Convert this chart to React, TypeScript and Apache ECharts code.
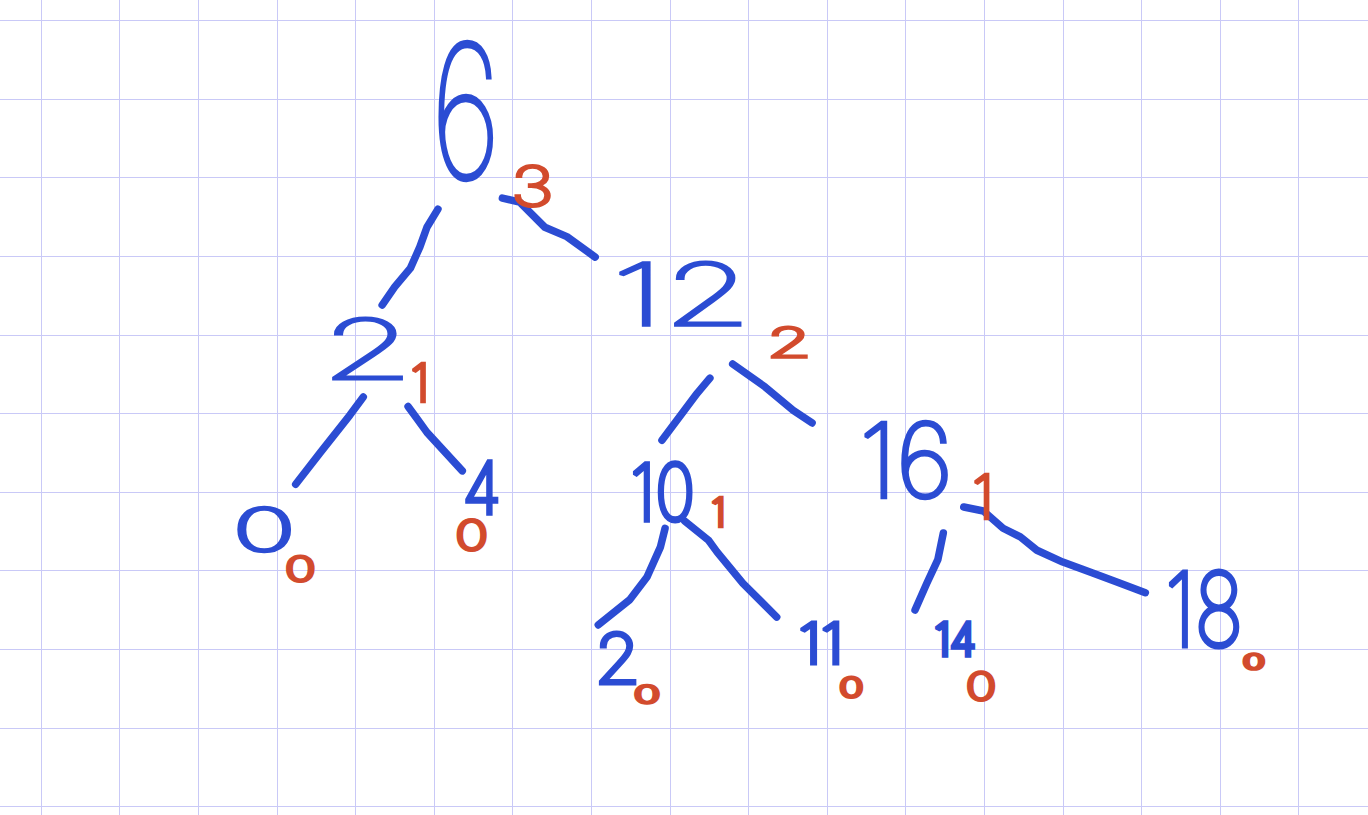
import { useEffect, useRef } from "react";
import * as echarts from "echarts";

// notebook paper: one unit = one square; the page shows a little less than 18 x 11 squares
const X_MIN = 0.478;
const X_MAX = 17.883;
const Y_MIN = 0.739;
const Y_MAX = 11.108;
const paperCols = [1, 2, 3, 4, 5, 6, 7, 8, 9, 10, 11, 12, 13, 14, 15, 16, 17];
const paperRows = [1, 2, 3, 4, 5, 6, 7, 8, 9, 10, 11];

// tree nodes (blue ink): written number and its centre, in squares
const nodeLabels = ["6", "12", "2", "0", "4", "10", "16", "2", "11", "14", "18"];
const nodeX = [6.41, 9.14, 5.16, 3.84, 6.61, 8.91, 12.01, 8.34, 10.91, 12.63, 15.8];
const nodeY = [2.15, 4.47, 5.18, 7.48, 6.95, 6.99, 6.59, 9.11, 8.92, 8.86, 8.49];

// balance numbers written next to each node (red ink)
const balanceLabels = ["3", "2", "1", "0", "0", "1", "1", "0", "0", "0", "0"];
const balanceX = [7.25, 10.52, 5.81, 4.3, 6.48, 9.61, 12.97, 8.71, 11.31, 12.96, 16.43];
const balanceY = [3.11, 5.09, 5.61, 7.98, 7.55, 7.25, 7.05, 9.57, 9.48, 9.47, 9.16];

// hand-drawn edges, parent -> child, as stroke points in squares
const edgeFrom = ["6", "6", "12", "12", "2", "2", "10", "10", "16", "16"];
const edgeTo = ["2", "12", "10", "16", "0", "4", "2", "11", "14", "18"];
const edgeX = [
  [6.05, 5.91, 5.82, 5.7, 5.5, 5.34],
  [6.87, 7.09, 7.41, 7.69, 8.05],
  [9.51, 9.35, 8.9],
  [9.8, 10.21, 10.57, 10.81],
  [5.1, 4.93, 4.55, 4.24],
  [5.67, 5.78, 5.91, 6.36],
  [8.94, 8.88, 8.71, 8.49, 8.09],
  [9.19, 9.49, 9.6, 9.93, 10.36],
  [12.48, 12.41, 12.27, 12.12],
  [12.74, 12.99, 13.24, 13.46, 13.67, 14.0, 14.38, 14.73, 15.05],
];
const edgeY = [
  [3.4, 3.63, 3.88, 4.15, 4.39, 4.62],
  [3.26, 3.31, 3.63, 3.75, 4.01],
  [5.55, 5.74, 6.34],
  [5.37, 5.66, 5.96, 6.12],
  [5.79, 6.02, 6.5, 6.9],
  [5.91, 6.06, 6.24, 6.73],
  [7.46, 7.7, 8.08, 8.37, 8.69],
  [7.37, 7.61, 7.76, 8.16, 8.59],
  [7.52, 7.86, 8.16, 8.5],
  [7.19, 7.24, 7.46, 7.57, 7.74, 7.89, 8.03, 8.16, 8.28],
];

// size of the handwriting (px): width, height of the ink; 0 width = natural
const nodeInkW = [53, 118, 67, 51, 29, 55, 80, 33, 34, 35, 67];
const nodeInkH = [138, 63, 61, 44, 51, 58, 76, 50, 40, 32, 76];
const balanceInkW = [32, 32, 0, 23, 25, 0, 0, 20, 18, 23, 24];
const balanceInkH = [41, 30, 37, 25, 31, 28, 43, 18, 20, 28, 15];

const BLUE = "#2b4cd3";
const RED = "#d24b2d";
const PAPER_LINE = "#c9c9f7";
const FONT = "Inter";
const WEIGHT = 100;
const STEM = 0.02;
const BASELINE_SHIFT = 0.065;

const measureCtx = document.createElement("canvas").getContext("2d")!;
function measureInk(text: string) {
  measureCtx.font = `${WEIGHT} 100px ${FONT}`;
  measureCtx.textAlign = "center";
  measureCtx.textBaseline = "middle";
  const m = measureCtx.measureText(text);
  return {
    left: m.actualBoundingBoxLeft,
    right: m.actualBoundingBoxRight,
    ascent: m.actualBoundingBoxAscent,
    descent: m.actualBoundingBoxDescent,
  };
}

function inkText(labels: string[], inkW: number[], inkH: number[], color: string, pen: number) {
  return (params: any, api: any) => {
    const i = params.dataIndex;
    const [cx, cy] = api.coord([api.value(0), api.value(1)]);
    const m = measureInk(labels[i]);
    const fontSize = (100 * inkH[i]) / (m.ascent + m.descent);
    const k = fontSize / 100;
    let sx = inkW[i] ? inkW[i] / ((m.left + m.right) * k) : 1;
    sx = Math.min(1.8, Math.max(0.35, sx));
    const lw = Math.max(0.5, pen / Math.sqrt(sx) - STEM * fontSize);
    return {
      type: "text",
      x: cx,
      y: cy,
      scaleX: sx,
      scaleY: 1,
      style: {
        text: labels[i],
        x: (-(m.right - m.left) / 2) * k,
        y: ((m.ascent - m.descent) / 2) * k - BASELINE_SHIFT * fontSize,
        align: "center",
        verticalAlign: "middle",
        fontFamily: FONT,
        fontWeight: WEIGHT,
        fontSize,
        fill: color,
        stroke: color,
        lineWidth: lw,
        lineJoin: "round",
      },
    };
  };
}

const hiddenAxis = {
  type: "value" as const,
  axisLine: { show: false },
  axisTick: { show: false },
  axisLabel: { show: false },
  splitLine: { show: false },
};

export default function App() {
  const chartRef = useRef<HTMLDivElement>(null);

  useEffect(() => {
    if (!chartRef.current) return;
    const chart = echarts.init(chartRef.current, null, { renderer: "svg" });

    const option: echarts.EChartsOption = {
      animation: false,
      backgroundColor: "#ffffff",
      grid: { left: 0, right: 0, top: 0, bottom: 0, containLabel: false },
      xAxis: { ...hiddenAxis, min: X_MIN, max: X_MAX },
      yAxis: { ...hiddenAxis, inverse: true, min: Y_MIN, max: Y_MAX },
      series: [
        {
          name: "edges",
          type: "lines",
          coordinateSystem: "cartesian2d",
          polyline: true,
          silent: true,
          z: 2,
          lineStyle: { color: BLUE, width: 7.5, opacity: 1, cap: "round", join: "round" },
          data: edgeX.map((xs, e) => ({
            name: `${edgeFrom[e]}-${edgeTo[e]}`,
            coords: xs.map((x, j) => [x, edgeY[e][j]]),
          })),
          markLine: {
            silent: true,
            symbol: "none",
            z: 1,
            label: { show: false },
            lineStyle: { color: PAPER_LINE, width: 1, type: "solid" },
            data: [
              ...paperCols.map((c) => ({ xAxis: c })),
              ...paperRows.map((r) => ({ yAxis: r })),
            ],
          },
        },
        {
          name: "nodes",
          type: "custom",
          coordinateSystem: "cartesian2d",
          silent: true,
          clip: false,
          z: 3,
          renderItem: inkText(nodeLabels, nodeInkW, nodeInkH, BLUE, 6.5) as any,
          data: nodeX.map((x, i) => [x, nodeY[i]]),
        },
        {
          name: "balance",
          type: "custom",
          coordinateSystem: "cartesian2d",
          silent: true,
          clip: false,
          z: 4,
          renderItem: inkText(balanceLabels, balanceInkW, balanceInkH, RED, 5.5) as any,
          data: balanceX.map((x, i) => [x, balanceY[i]]),
        },
      ],
    };

    chart.setOption(option);
    return () => chart.dispose();
  }, []);

  return (
    <div
      ref={chartRef}
      style={{ position: "fixed", left: 0, top: 0, width: 1368, height: 815 }}
    />
  );
}
